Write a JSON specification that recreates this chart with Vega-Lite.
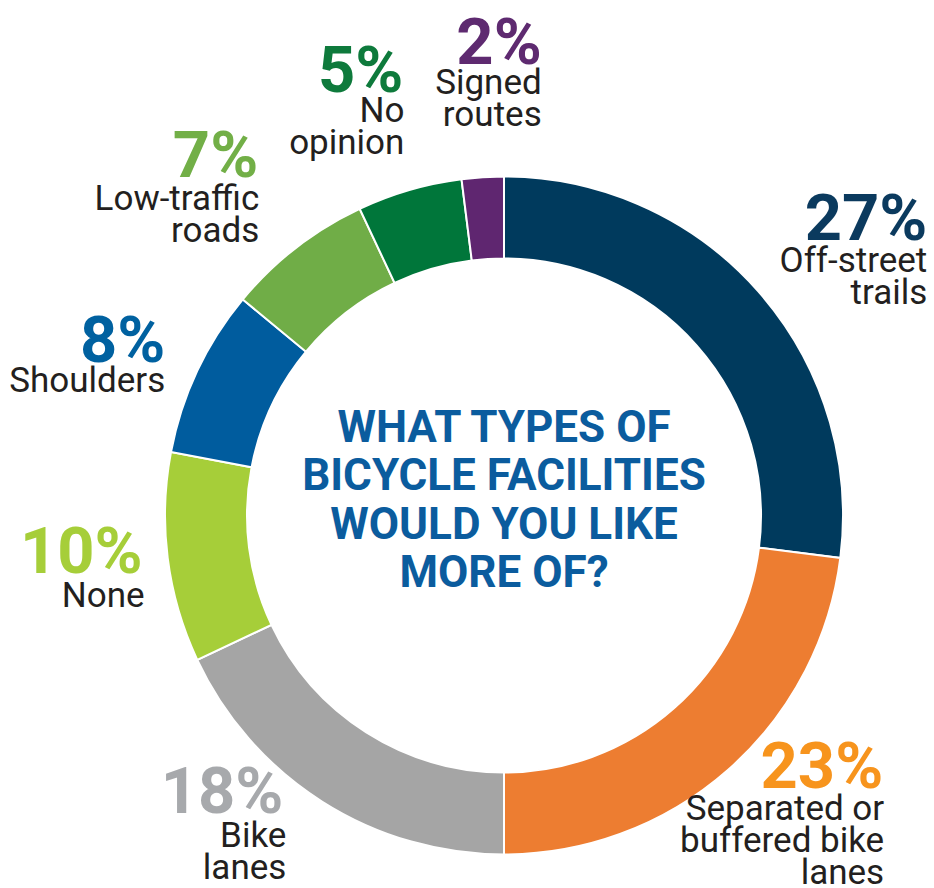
{
  "$schema": "https://vega.github.io/schema/vega-lite/v6.json",
  "autosize": "none",
  "padding": {"left": 74, "top": 143, "right": 0, "bottom": 0},
  "width": 860,
  "height": 745,
  "background": "white",
  "view": {"stroke": null},
  "data": {
    "values": [
      {"idx": 1, "cat": "Off-street trails", "pct": 27, "label": "27%", "name": ["Off-street", "trails"]},
      {"idx": 2, "cat": "Separated or buffered bike lanes", "pct": 23, "label": "23%", "name": ["Separated or", "buffered bike", "lanes"]},
      {"idx": 3, "cat": "Bike lanes", "pct": 18, "label": "18%", "name": ["Bike", "lanes"]},
      {"idx": 4, "cat": "None", "pct": 10, "label": "10%", "name": ["None"]},
      {"idx": 5, "cat": "Shoulders", "pct": 8, "label": "8%", "name": ["Shoulders"]},
      {"idx": 6, "cat": "Low-traffic roads", "pct": 7, "label": "7%", "name": ["Low-traffic", "roads"]},
      {"idx": 7, "cat": "No opinion", "pct": 5, "label": "5%", "name": ["No", "opinion"]},
      {"idx": 8, "cat": "Signed routes", "pct": 2, "label": "2%", "name": ["Signed", "routes"]}
    ]
  },
  "layer": [
    {
      "mark": {"type": "arc", "outerRadius": 339, "innerRadius": 257, "stroke": "white", "strokeWidth": 2},
      "encoding": {
        "theta": {"field": "pct", "type": "quantitative", "stack": true},
        "order": {"field": "idx", "type": "quantitative"},
        "color": {
          "field": "cat", "type": "nominal", "legend": null,
          "scale": {
            "domain": ["Off-street trails", "Separated or buffered bike lanes", "Bike lanes", "None", "Shoulders", "Low-traffic roads", "No opinion", "Signed routes"],
            "range": ["#003A5D", "#ED7D31", "#A5A5A5", "#A6CE39", "#005C9E", "#70AD47", "#00763A", "#5F2670"]
          }
        }
      }
    },
    {
      "mark": {
        "type": "text", "radius": 339, "align": "right", "baseline": "alphabetic",
        "font": "Roboto", "fontWeight": "bold", "fontSize": 65,
        "dx": {"expr": "({'Off-street trails':169,'Separated or buffered bike lanes':155,'Bike lanes':-39,'None':-25,'Shoulders':-32,'Low-traffic roads':-38,'No opinion':-6,'Signed routes':59})[datum.cat]"},
        "dy": {"expr": "({'Off-street trails':-51,'Separated or buffered bike lanes':18,'Bike lanes':11,'None':15,'Shoulders':-9,'Low-traffic roads':-71,'No opinion':-98,'Signed routes':-113})[datum.cat]"}
      },
      "encoding": {
        "theta": {"field": "pct", "type": "quantitative", "stack": true},
        "order": {"field": "idx", "type": "quantitative"},
        "text": {"field": "label", "type": "nominal"},
        "color": {
          "field": "cat", "type": "nominal", "legend": null,
          "scale": {
            "domain": ["Off-street trails", "Separated or buffered bike lanes", "Bike lanes", "None", "Shoulders", "Low-traffic roads", "No opinion", "Signed routes"],
            "range": ["#0B3A5E", "#F7941D", "#A7A9AC", "#A6CE39", "#0061A0", "#72AF47", "#0E7A3C", "#5E2A70"]
          }
        }
      }
    },
    {
      "mark": {
        "type": "text", "radius": 339, "align": "right", "baseline": "alphabetic",
        "font": "Roboto", "fontSize": 35, "lineHeight": 32, "color": "#231F20",
        "dx": {"expr": "({'Off-street trails':169,'Separated or buffered bike lanes':156,'Bike lanes':-36,'None':-23,'Shoulders':-32,'Low-traffic roads':-37,'No opinion':-5,'Signed routes':59})[datum.cat]"},
        "dy": {"expr": "({'Off-street trails':-19,'Separated or buffered bike lanes':50,'Bike lanes':45,'None':49,'Shoulders':21,'Low-traffic roads':-38,'No opinion':-68,'Signed routes':-83})[datum.cat]"}
      },
      "encoding": {
        "theta": {"field": "pct", "type": "quantitative", "stack": true},
        "order": {"field": "idx", "type": "quantitative"},
        "text": {"field": "name", "type": "nominal"}
      }
    },
    {
      "data": {"values": [{"title": ["WHAT TYPES OF", "BICYCLE FACILITIES", "WOULD YOU LIKE", "MORE OF?"]}]},
      "mark": {
        "type": "text", "align": "center", "baseline": "middle",
        "font": "Roboto", "fontWeight": "bold", "fontSize": 44, "lineHeight": 48.5,
        "color": "#0B5C9E", "dy": -87
      },
      "encoding": {
        "text": {"field": "title", "type": "nominal"}
      }
    }
  ],
  "resolve": {"scale": {"color": "independent"}},
  "config": {"style": {"cell": {"stroke": null}}}
}
